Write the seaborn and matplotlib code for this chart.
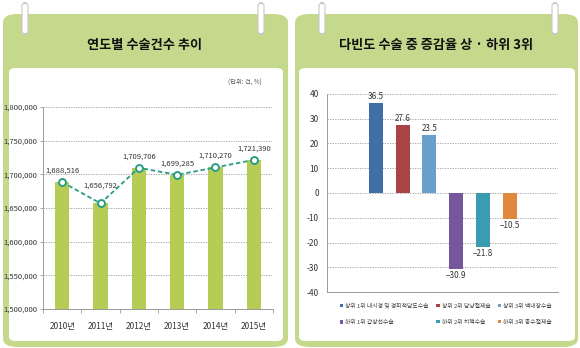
import numpy as np
import pandas as pd
import matplotlib
matplotlib.use("Agg")
import matplotlib.pyplot as plt
import seaborn as sns
from matplotlib.patches import FancyBboxPatch, Patch

years = ["2010년", "2011년", "2012년", "2013년", "2014년", "2015년"]
counts = [1688516, 1656792, 1709706, 1699285, 1710270, 1721390]
count_labels = ["1,688,516", "1,656,792", "1,709,706", "1,699,285", "1,710,270", "1,721,390"]
left_yticks = [1500000, 1550000, 1600000, 1650000, 1700000, 1750000, 1800000]

surgeries = ["상위 1위 내시경 및 경피적담도수술", "상위 2위 담낭절제술", "상위 3위 백내장수술",
             "하위 1위 갑상선수술", "하위 2위 치핵수술", "하위 3위 충수절제술"]
rates = [36.5, 27.6, 23.5, -30.9, -21.8, -10.5]
right_yticks = [-40, -30, -20, -10, 0, 10, 20, 30, 40]
bar_colors = ["#3f6fa6", "#a94446", "#6a9ecd", "#76579b", "#3b9bb1", "#e1883f"]

title_left = "연도별 수술건수 추이"
title_right = "다빈도 수술 중 증감율 상 · 하위 3위"
unit_text = "(단위: 건, %)"

sns.set_theme(style="white")
plt.rcParams["font.family"] = ["Noto Sans CJK KR", "DejaVu Sans"]
NARROW = ["Liberation Sans Narrow", "Noto Sans CJK KR", "DejaVu Sans"]

W, H = 580, 348
fig = plt.figure(figsize=(W / 100, H / 100), dpi=100)
fig.patch.set_facecolor("white")

def fr(x0, y0, x1, y1):
    return [x0 / W, 1 - y1 / H, (x1 - x0) / W, (y1 - y0) / H]

GREEN = "#c5d98c"
GRID = "#9a9a9a"

def panel(x0, y0, x1, y1, ix0, iy0, ix1, iy1, hooks, title, tx):
    g = FancyBboxPatch((x0 / W, 1 - y1 / H), (x1 - x0) / W, (y1 - y0) / H,
                       boxstyle="round,pad=0,rounding_size=0.025", transform=fig.transFigure,
                       facecolor=GREEN, edgecolor="none", zorder=-3)
    fig.patches.append(g)
    w = FancyBboxPatch((ix0 / W, 1 - iy1 / H), (ix1 - ix0) / W, (iy1 - iy0) / H,
                       boxstyle="round,pad=0,rounding_size=0.012", transform=fig.transFigure,
                       facecolor="white", edgecolor="none", zorder=-2)
    fig.patches.append(w)
    for hx in hooks:
        h = FancyBboxPatch(((hx - 3) / W, 1 - 34 / H), 6 / W, 31 / H,
                           boxstyle="round,pad=0,rounding_size=0.008", transform=fig.transFigure,
                           facecolor="white", edgecolor="#c8c8c8", linewidth=0.8, zorder=-1)
        fig.patches.append(h)
    fig.text(tx / W, 1 - 45 / H, title, ha="center", va="center", fontsize=9.5,
             fontweight="bold", color="#111111")

panel(3, 14, 288, 347, 9, 68, 283, 341, [25, 261], title_left, 145)
panel(295, 14, 578, 347, 299, 68, 575, 341, [322, 555], title_right, 436)

fig.text(262 / W, 1 - 83 / H, unit_text, ha="right", va="center", fontsize=4.5,
         color="#555555")

# ---- left chart ----
axl = fig.add_axes(fr(43, 107, 273, 309))
axl.set_zorder(2)
axl.set_facecolor("none")
dfl = pd.DataFrame({"year": years, "count": counts})
sns.barplot(data=dfl, x="year", y="count", color="#b6cd55", saturation=1, width=0.37,
            ax=axl, zorder=2)
for p in axl.patches:
    p.set_edgecolor("none")
sns.lineplot(x=np.arange(len(counts)), y=counts, ax=axl, color="#2a9d86", linewidth=1.3,
             linestyle=(0, (2.5, 1.5)), marker="o", markersize=5, markerfacecolor="white",
             markeredgecolor="#2a9d86", markeredgewidth=1.4, zorder=4)
for i, (v, s) in enumerate(zip(counts, count_labels)):
    off = 21000 if i == 1 else 11000
    axl.text(i, v + off, s, ha="center", va="bottom", fontsize=5.5, family=NARROW,
             color="#333333", zorder=5)
axl.set_ylim(1500000, 1800000)
axl.set_xlim(-0.5, 5.5)
axl.set_yticks(left_yticks)
axl.set_yticklabels([f"{v:,}" for v in left_yticks], fontsize=5.5, family=NARROW,
                    color="#333333")
axl.set_xticks(range(len(years)))
axl.set_xticklabels(years, fontsize=6, family=NARROW, color="#333333")
axl.set_xticks(np.arange(-0.5, 6, 1), minor=True)
axl.tick_params(axis="x", which="major", length=0, pad=9)
axl.tick_params(axis="x", which="minor", length=3, color="#999999", width=0.6,
                direction="out", bottom=True)
axl.tick_params(axis="y", length=2, color="#999999", width=0.6, left=True, pad=2)
axl.yaxis.grid(True, linestyle=(0, (1.5, 1.5)), color=GRID, linewidth=0.6)
axl.set_axisbelow(True)
for s in ["top", "right"]:
    axl.spines[s].set_visible(False)
for s in ["left", "bottom"]:
    axl.spines[s].set_color("#999999")
    axl.spines[s].set_linewidth(0.7)
axl.set_xlabel("")
axl.set_ylabel("")

# ---- right chart ----
axr = fig.add_axes(fr(327, 94, 558, 292))
axr.set_zorder(2)
axr.set_facecolor("none")
dfr = pd.DataFrame({"surgery": surgeries, "rate": rates})
sns.barplot(data=dfr, x="surgery", y="rate", hue="surgery", palette=bar_colors,
            saturation=1, width=0.52, ax=axr, legend=False, zorder=2)
for p in axr.patches:
    p.set_edgecolor("none")
for i, v in enumerate(rates):
    if v >= 0:
        axr.text(i, v + 0.6, f"{v}", ha="center", va="bottom", fontsize=5.8,
                 family=NARROW, color="#333333")
    else:
        axr.text(i, v - 0.8, f"{v}".replace("-", "−"), ha="center", va="top", fontsize=5.8,
                 family=NARROW, color="#333333")
axr.set_ylim(-40, 40)
axr.set_xlim(-1.81, 6.78)
axr.set_yticks(right_yticks)
axr.set_yticklabels([str(v) for v in right_yticks], fontsize=6, family=NARROW,
                    color="#333333")
axr.set_xticks([])
axr.tick_params(axis="y", length=0, pad=6)
axr.yaxis.grid(True, linestyle=(0, (1.5, 1.5)), color=GRID, linewidth=0.6)
axr.set_axisbelow(True)
for s in ["top", "right"]:
    axr.spines[s].set_visible(False)
for s in ["left", "bottom"]:
    axr.spines[s].set_color("#999999")
    axr.spines[s].set_linewidth(0.7)
axr.set_xlabel("")
axr.set_ylabel("")

handles = [Patch(facecolor=c, edgecolor="none") for c in bar_colors]
order = [0, 3, 1, 4, 2, 5]
fig.legend([handles[i] for i in order], [surgeries[i] for i in order], ncol=3,
           loc="upper left", bbox_to_anchor=(340 / W, 1 - 303 / H), frameon=False,
           fontsize=4.2, handlelength=0.6, handleheight=0.6, handletextpad=0.3,
           columnspacing=1.3, labelspacing=1.9, borderpad=0, borderaxespad=0,
           labelcolor="#444444")

fig.savefig("out.png", dpi=100, facecolor="white")
